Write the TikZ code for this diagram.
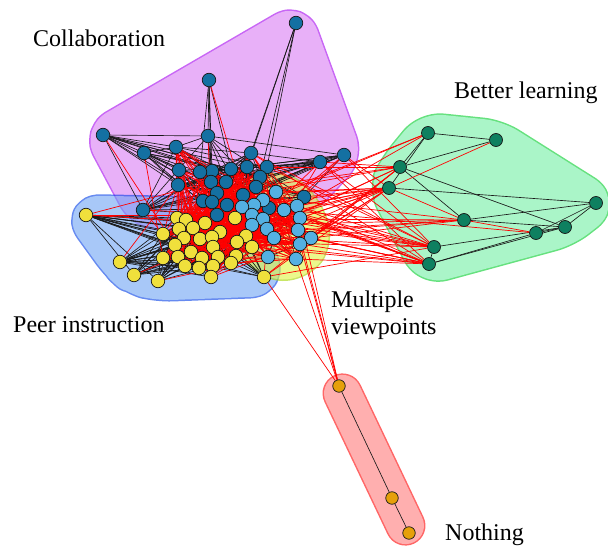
\documentclass[tikz,border=0pt]{standalone}
\usepackage{fontspec}
\setmainfont{Liberation Serif}
\pgfdeclarelayer{hulls}
\pgfdeclarelayer{edges}
\pgfsetlayers{hulls,edges,main}
\definecolor{cdark}{RGB}{20,112,162}
\definecolor{clight}{RGB}{84,176,226}
\definecolor{cyel}{RGB}{240,224,60}
\definecolor{cgreen}{RGB}{14,128,96}
\definecolor{corange}{RGB}{230,160,10}
\definecolor{pfill}{RGB}{217,123,243}
\definecolor{pline}{RGB}{163,0,238}
\definecolor{bfill}{RGB}{110,163,243}
\definecolor{bline}{RGB}{0,60,230}
\definecolor{gfill}{RGB}{113,238,163}
\definecolor{gline}{RGB}{0,205,40}
\definecolor{yfill}{RGB}{222,243,63}
\definecolor{yline}{RGB}{163,213,0}
\definecolor{rfill}{RGB}{255,122,122}
\definecolor{rline}{RGB}{255,0,0}
\definecolor{redge}{RGB}{255,0,0}
\newcommand\myhull[5]{%
  \begin{scope}[transparency group, opacity=0.6]
    \draw[draw=#1, line width=#3, line join=round, rounded corners=14pt] #5;
    \draw[draw=#2, fill=#2, line width=#4, line join=round, rounded corners=14pt] #5;
  \end{scope}}
\begin{document}
\begin{tikzpicture}[x=1pt,y=-1pt,
  nd/.style={circle,draw=black!90,line width=0.7pt,minimum size=13.5pt,inner sep=0pt},
  cn/.style={nd,fill=cdark},
  mn/.style={nd,fill=clight},
  yn/.style={nd,fill=cyel},
  gn/.style={nd,fill=cgreen,minimum size=13pt},
  on/.style={nd,fill=corange,minimum size=12.5pt},
  blk/.style={draw=black!90,line width=0.65pt},
  rde/.style={draw=redge,line width=0.7pt},
  lbl/.style={font=\fontsize{24}{27}\selectfont,inner sep=0pt,anchor=base west}]
\useasboundingbox (0,0) rectangle (608,556);

% ---------- nodes ----------
\foreach \n/\x/\y in {1/296/23,2/209/80,3/103/135,4/208/136,5/176/147,6/144/153,
  7/251/153,8/344/155,9/320/162,10/267/167,11/247/167,12/231/169,13/212/171,
  14/200/172,15/179/170,16/211/182,17/226/182,18/260/177,19/256/187,20/178/185,
  21/217/193,22/243/195,23/304/197,24/143/210,25/203/201,26/212/202,27/227/205,
  28/269/208,29/217/215}
  \node[cn] (c\n) at (\x,\y) {};
\foreach \n/\x/\y in {1/276/192,2/263/200,3/254/205,4/242/207,5/252/215,6/263/219,
  7/284/210,8/297/206,9/300/218,10/252/225,11/267/229,12/298/230,13/274/238,
  14/311/238,15/300/244,16/268/257,17/296/259}
  \node[mn] (m\n) at (\x,\y) {};
\foreach \n/\x/\y in {1/86/215,2/177/218,3/186/220,4/205/223,5/235/218,6/193/228,
  7/179/229,8/220/232,9/163/234,10/184/238,11/200/239,12/212/237,13/246/236,
  14/237/242,15/175/245,16/213/247,17/252/247,18/191/252,19/163/258,20/178/257,
  21/202/258,22/218/257,23/236/256,24/120/262,25/185/266,26/199/268,27/213/266,
  28/231/263,29/134/275,30/158/281,31/211/277,32/264/277}
  \node[yn] (y\n) at (\x,\y) {};
\foreach \n/\x/\y in {1/428/133,2/496/140,3/400/167,4/389/188,5/596/203,
  6/464/220,7/565/227,8/536/233,9/434/247,10/429/264}
  \node[gn] (g\n) at (\x,\y) {};
\foreach \n/\x/\y in {1/339/386,2/392/498,3/409/533}
  \node[on] (o\n) at (\x,\y) {};

% ---------- labels ----------
\node[lbl] (lc) at (33,47) {Collaboration};
\node[lbl] (lb) at (454,99) {Better learning};
\node[lbl] (lp) at (13,332) {Peer instruction};
\node[lbl] (lm1) at (331,307) {Multiple};
\node[lbl] (lm2) at (331,334) {viewpoints};
\node[lbl] (ln) at (445,540) {Nothing};

% ---------- hulls ----------
\begin{pgfonlayer}{hulls}
\myhull{pline}{pfill}{38pt}{35pt}{(c3.center) -- (c1.center) -- (c8.center) -- (c23.center) -- (c29.center) -- (c24.center) -- cycle}
\myhull{bline}{bfill}{42pt}{39pt}{(y1.center) -- (y5.center) -- (y13.center) -- (y17.center) -- (y32.center) -- (y30.center) -- (y29.center) -- (y24.center) -- cycle}
\myhull{yline}{yfill}{46pt}{43pt}{(m1.center) -- (m8.center) -- (m14.center) -- (m17.center) -- (m16.center) -- (m4.center) -- cycle}
\myhull{gline}{gfill}{42pt}{39pt}{(g1.center) -- (g2.center) -- (g5.center) -- (g7.center) -- (g10.center) -- (g4.center) -- (g3.center) -- cycle}
\myhull{rline}{rfill}{40pt}{37pt}{(o1.center) -- (o3.center) -- cycle}
\end{pgfonlayer}

% ---------- edges ----------
\begin{pgfonlayer}{edges}
\pgfmathsetseed{4711}
% black, collaboration
\foreach \j in {7,10,18,11} \draw[blk] (c1) -- (c\j);
\foreach \j in {4,13,12,14,16} \draw[blk] (c2) -- (c\j);
\foreach \i in {3,...,29}{\foreach \j in {3,...,29}{\ifnum\i<\j
  \pgfmathrandominteger{\r}{0}{99}\ifnum\r<35 \draw[blk] (c\i) -- (c\j);\fi\fi}}
% black, peer instruction
\foreach \i in {1,...,32}{\foreach \j in {1,...,32}{\ifnum\i<\j
  \pgfmathrandominteger{\r}{0}{99}\ifnum\r<38 \draw[blk] (y\i) -- (y\j);\fi\fi}}
% black, multiple viewpoints
\foreach \i in {1,...,17}{\foreach \j in {1,...,17}{\ifnum\i<\j
  \pgfmathrandominteger{\r}{0}{99}\ifnum\r<25 \draw[blk] (m\i) -- (m\j);\fi\fi}}
% black, better learning
\foreach \a/\b in {1/2,1/3,1/4,3/2,3/6,3/7,4/5,6/5,6/7,8/5,7/5,9/7,10/8,9/10,8/7,10/7}
  \draw[blk] (g\a) -- (g\b);
% black, nothing
\draw[blk] (o1) -- (o2);
\draw[blk] (o2) -- (o3);
% red, between the central clusters
\foreach \i in {5,7,10,11,12,13,14,15,16,17,18,19,20,21,22,25,26,27,28,29}{
  \foreach \j in {2,...,23,25,26,27,28,31}{
  \pgfmathrandominteger{\r}{0}{99}\ifnum\r<30 \draw[rde] (c\i) -- (y\j);\fi}}
\foreach \i in {1,...,17}{
  \foreach \j in {2,...,23,25,26,27,28,31}{
  \pgfmathrandominteger{\r}{0}{99}\ifnum\r<35 \draw[rde] (m\i) -- (y\j);\fi}}
\foreach \i in {5,7,10,11,12,13,14,15,16,17,18,19,20,21,22,25,26,27,28,29}{
  \foreach \j in {1,...,17}{
  \pgfmathrandominteger{\r}{0}{99}\ifnum\r<30 \draw[rde] (c\i) -- (m\j);\fi}}
\foreach \a/\b in {c2/c22,c3/y15,c6/y19,c24/y9,c24/m5,y1/c16,y1/m5,y1/m10,y24/c20,
  y29/m10,y30/m16,c8/y13,c9/y14,c23/y17,y32/c28,c4/y12,c9/m13,c8/m11}
  \draw[rde] (\a) -- (\b);
% red, towards better learning
\foreach \t/\p in {1/15,3/40,4/45,6/25,8/10,9/40,10/40}{
  \foreach \s in {c7,c8,c9,c10,c18,c19,c22,c23,c28,m1,m2,m3,m4,m5,m6,m7,m8,m9,
    m10,m11,m12,m13,m14,m15,m16,m17,y5,y13,y14,y17,y32}{
  \pgfmathrandominteger{\r}{0}{99}\ifnum\r<\p \draw[rde] (\s) -- (g\t);\fi}}
\draw[rde] (g4) -- (g2);
\draw[rde] (g4) -- (g6);
\draw[rde] (g6) -- (g8);
% red, towards nothing
\foreach \s in {y32,m17,m15,m12,m9}
  \draw[rde] (o1) -- (\s);
\end{pgfonlayer}
\end{tikzpicture}
\end{document}
